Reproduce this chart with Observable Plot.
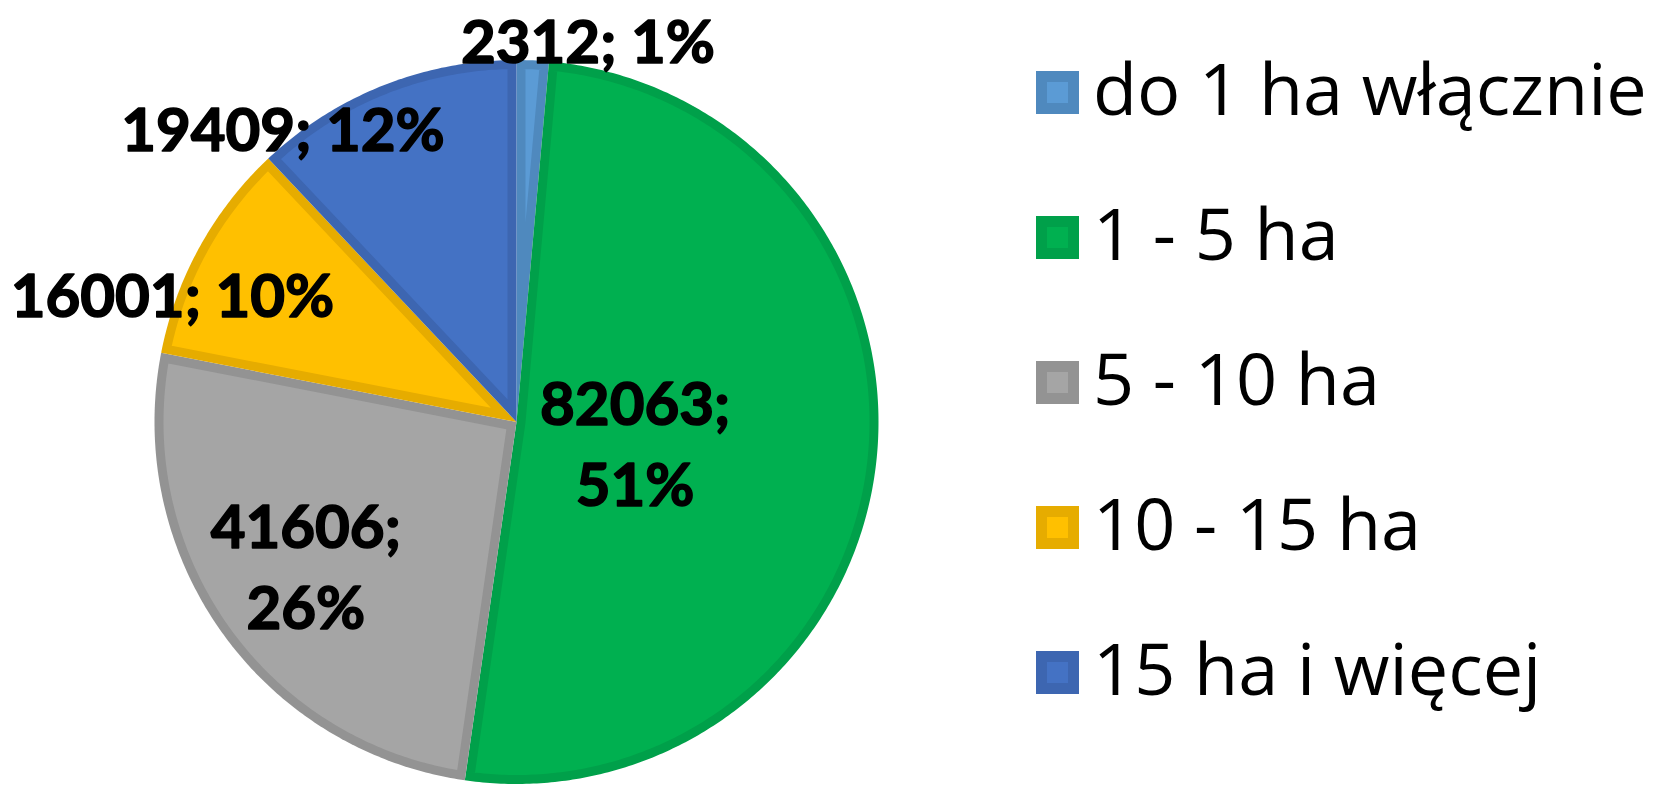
<!DOCTYPE html>
<html>
<head>
<meta charset="utf-8">
<script src="https://cdn.jsdelivr.net/npm/d3@7"></script>
<script src="https://cdn.jsdelivr.net/npm/@observablehq/plot@0.6"></script>
<style>
  html, body { margin: 0; padding: 0; background: #fff; }
  #wrap { position: relative; width: 1667px; height: 786px; overflow: hidden; }
  #legend { position: absolute; left: 1036px; top: 20px; font-family: "Open Sans", sans-serif; }
  .row { height: 145px; display: flex; align-items: center; }
  .sw { width: 43px; height: 43px; box-sizing: border-box; border: 11px solid; margin-right: 14px; flex: none; }
  .lt { font-size: 72px; line-height: 1; color: #000; white-space: nowrap; position: relative; top: -6px; }
</style>
</head>
<body>
<div id="wrap"><div id="chart"></div><div id="legend"></div></div>
<script>
// ---- data ----
const categories = ["do 1 ha włącznie", "1 - 5 ha", "5 - 10 ha", "10 - 15 ha", "15 ha i więcej"];
const values = [2312, 82063, 41606, 16001, 19409];
const fills = ["#5B9BD5", "#00B050", "#A5A5A5", "#FFC000", "#4472C4"];
const borders = ["#4F89BE", "#00A04A", "#939393", "#E6AC00", "#3D66B1"];
// label layout (radius factor, pixel nudges, line break)
const labelRadius = [1.07, 0.33, 0.67, 1.0, 1.0];
const labelDx = [54, 0, -13, -27, -100];
const labelDy = [2, 4, 0, 44, 40];
const labelBreak = [false, true, true, false, false];

// ---- geometry ----
const R = 362; // px radius
const cx = 516, cy = 421.5;
const width = 1667, height = 786;
const borderPx = 9;
const d = borderPx / R;

const total = d3.sum(values);
const pie = d3.pie().sort(null).value(v => v)(values);

function wedge(a0, a1, r) {
  const pts = [{x: 0, y: 0}];
  const n = Math.max(2, Math.ceil((a1 - a0) / 0.01) + 1);
  for (let i = 0; i < n; i++) {
    const a = a0 + (a1 - a0) * i / (n - 1);
    pts.push({x: r * Math.sin(a), y: r * Math.cos(a)});
  }
  return pts;
}
// inward miter offset of a clockwise (y-up) polygon
function inset(pts, dd) {
  const n = pts.length;
  const lines = [];
  for (let i = 0; i < n; i++) {
    const p = pts[i], q = pts[(i + 1) % n];
    let ux = q.x - p.x, uy = q.y - p.y;
    const L = Math.hypot(ux, uy); ux /= L; uy /= L;
    const nx = uy, ny = -ux;
    lines.push({px: p.x + dd * nx, py: p.y + dd * ny, ux, uy});
  }
  const out = [];
  for (let i = 0; i < n; i++) {
    const A = lines[(i - 1 + n) % n], B = lines[i];
    const cr = A.ux * B.uy - A.uy * B.ux;
    if (Math.abs(cr) < 1e-9) { out.push({x: B.px, y: B.py}); continue; }
    const qx = B.px - A.px, qy = B.py - A.py;
    const t = (qx * B.uy - qy * B.ux) / cr;
    out.push({x: A.px + t * A.ux, y: A.py + t * A.uy});
  }
  return out;
}

const marks = [];
pie.forEach((s, i) => {
  const outer = wedge(s.startAngle, s.endAngle, 1);
  marks.push(Plot.line(outer, {x: "x", y: "y", curve: "linear-closed", fill: borders[i], stroke: "none"}));
});
pie.forEach((s, i) => {
  const inner = inset(wedge(s.startAngle, s.endAngle, 1), d);
  marks.push(Plot.line(inner, {x: "x", y: "y", curve: "linear-closed", fill: fills[i], stroke: "none"}));
});

const labels = pie.map((s, i) => {
  const mid = (s.startAngle + s.endAngle) / 2;
  const pct = Math.round(values[i] / total * 100);
  const r = labelRadius[i];
  return {
    x: r * Math.sin(mid), y: r * Math.cos(mid),
    text: labelBreak[i] ? `${values[i]};\n${pct}%` : `${values[i]}; ${pct}%`,
    dx: labelDx[i], dy: labelDy[i]
  };
});
labels.forEach(l => {
  marks.push(Plot.text([l], {x: "x", y: "y", text: "text", dx: l.dx, dy: l.dy,
    fontSize: 60, fontWeight: "bold", fontFamily: "Lato, sans-serif", fill: "#000",
    stroke: "#000", strokeWidth: 1.6, paintOrder: "stroke",
    lineHeight: 1.35, textAnchor: "middle", lineAnchor: "middle"}));
});

const chart = Plot.plot({
  width, height,
  marginLeft: cx - R, marginRight: width - (cx + R),
  marginTop: cy - R, marginBottom: height - (cy + R),
  x: {domain: [-1, 1], axis: null},
  y: {domain: [-1, 1], axis: null},
  style: {fontFamily: "Lato, sans-serif", background: "transparent", overflow: "visible"},
  marks
});
document.getElementById("chart").appendChild(chart);

// ---- legend ----
const lg = document.getElementById("legend");
categories.forEach((c, i) => {
  const row = document.createElement("div");
  row.className = "row";
  const sw = document.createElement("div");
  sw.className = "sw";
  sw.style.background = fills[i];
  sw.style.borderColor = borders[i];
  const t = document.createElement("span");
  t.className = "lt";
  t.textContent = c;
  row.appendChild(sw); row.appendChild(t);
  lg.appendChild(row);
});
</script>
</body>
</html>
